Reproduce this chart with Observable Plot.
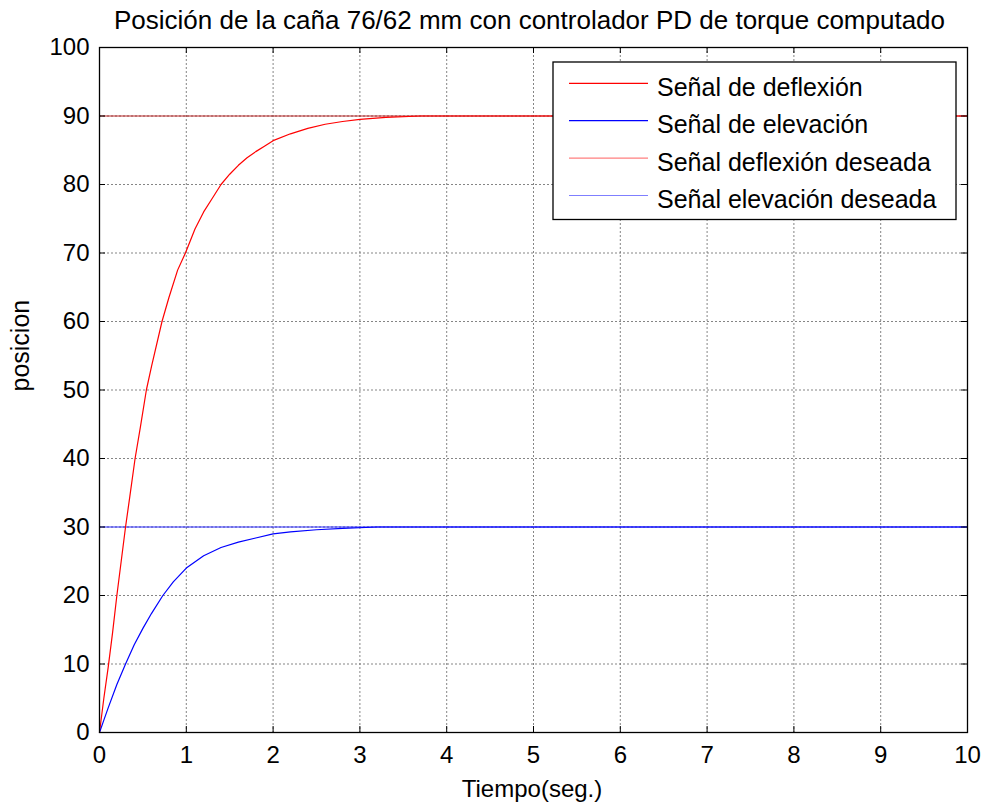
<!DOCTYPE html>
<html><head><meta charset="utf-8">
<script src="https://cdn.jsdelivr.net/npm/d3@7"></script>
<script src="https://cdn.jsdelivr.net/npm/@observablehq/plot@0.6"></script>
<style>body{margin:0;background:#fff}</style>
</head><body><div id="chart"></div>
<script>
const title = "Posición de la caña 76/62 mm con controlador PD de torque computado";
const xLabel = "Tiempo(seg.)";
const yLabel = "posicion";
const xTicks = [0,1,2,3,4,5,6,7,8,9,10];
const yTicks = [0,10,20,30,40,50,60,70,80,90,100];

// Señal de deflexión (rojo)
const tRed = [0,0.05,0.1,0.15,0.2,0.25,0.3,0.35,0.41,0.47,0.54,0.6,0.72,0.8,0.9,0.99,1.1,1.2,1.3,1.4,1.5,1.6,1.7,1.8,1.9,2.0,2.2,2.4,2.6,2.8,3.0,3.3,3.7,10];
const deflexion = [0,5,9.5,14.5,20,25,30,34.5,40,44.5,50,53.5,60,63.5,67.5,70,73.5,76,78,80,81.5,82.8,83.9,84.8,85.6,86.4,87.4,88.2,88.8,89.2,89.5,89.8,90,90];

// Señal de elevación (azul)
const tBlue = [0,0.05,0.1,0.2,0.3,0.4,0.5,0.6,0.73,0.85,1.0,1.2,1.4,1.6,1.8,2.0,2.2,2.5,2.8,3.2,10];
const elevacion = [0,1.8,3.6,7,10,12.8,15.2,17.4,20,22,24,25.8,27,27.8,28.4,29,29.3,29.6,29.8,30,30];

// Señales deseadas
const tRef = [0,10];
const deflexionDeseada = [90,90];
const elevacionDeseada = [30,30];

const legendLabels = ["Señal de deflexión","Señal de elevación","Señal deflexión deseada","Señal elevación deseada"];
const seriesColors = ["#ff0000","#0000ff","#ff0000","#0000ff"];
const seriesOpacity = [1,1,0.5,0.5];

const red = tRed.map((t,i)=>({t, v: deflexion[i]}));
const blue = tBlue.map((t,i)=>({t, v: elevacion[i]}));
const redRef = tRef.map((t,i)=>({t, v: deflexionDeseada[i]}));
const blueRef = tRef.map((t,i)=>({t, v: elevacionDeseada[i]}));

const W = 985, H = 805;
const mL = 99, mR = 18, mT = 47, mB = 73;
const fW = W - mL - mR, fH = H - mT - mB;
const tk = 6;
const font = "'Liberation Sans', Arial, sans-serif";

const svg = Plot.plot({
  width: W, height: H,
  marginLeft: mL, marginRight: mR, marginTop: mT, marginBottom: mB,
  style: {fontFamily: font, fontSize: "24px", background: "white", color: "black", overflow: "visible"},
  x: {domain: [0,10], ticks: xTicks, label: null},
  y: {domain: [0,100], ticks: yTicks, label: null},
  marks: [
    Plot.gridX(xTicks, {stroke: "#666", strokeOpacity: 0.8, strokeDasharray: "2,2"}),
    Plot.gridY(yTicks, {stroke: "#666", strokeOpacity: 0.8, strokeDasharray: "2,2"}),
    Plot.line(redRef, {x: "t", y: "v", stroke: "#b00000", strokeOpacity: 0.85, strokeWidth: 1}),
    Plot.line(blueRef, {x: "t", y: "v", stroke: seriesColors[3], strokeOpacity: 0.85, strokeWidth: 1}),
    Plot.line(red, {x: "t", y: "v", stroke: seriesColors[0], strokeWidth: 1.2}),
    Plot.line(blue, {x: "t", y: "v", stroke: seriesColors[1], strokeWidth: 1.2}),
    Plot.frame({stroke: "black", strokeWidth: 1.3}),
    Plot.tickX(xTicks, {x: d => d, insetTop: fH - tk, stroke: "black"}),
    Plot.tickX(xTicks, {x: d => d, insetBottom: fH - tk, stroke: "black"}),
    Plot.tickY(yTicks, {y: d => d, insetRight: fW - tk, stroke: "black"}),
    Plot.tickY(yTicks, {y: d => d, insetLeft: fW - tk, stroke: "black"}),
    Plot.axisX(xTicks, {anchor: "bottom", tickSize: 0, tickPadding: 13, fontSize: 24}),
    Plot.axisY(yTicks, {anchor: "left", tickSize: 0, tickPadding: 10, fontSize: 24}),
    Plot.text([title], {frameAnchor: "top", dy: -19, dx: -4, lineAnchor: "bottom", fontSize: 26}),
    Plot.text([xLabel], {frameAnchor: "bottom", dy: 64, dx: -1.5, lineAnchor: "bottom", fontSize: 24}),
    Plot.text([yLabel], {frameAnchor: "left", dx: -71, dy: 1.5, rotate: -90, lineAnchor: "bottom", fontSize: 25})
  ]
});

// Legend
const lg = d3.select(svg).append("g").attr("font-family", font).attr("font-size", 25).attr("text-anchor", "start");
const bx = 553, by = 62, bw = 403, bh = 157.5;
lg.append("rect").attr("x", bx).attr("y", by).attr("width", bw).attr("height", bh)
  .attr("fill", "white").attr("stroke", "black").attr("stroke-width", 1.3);
legendLabels.forEach((lab, i) => {
  const yy = 83.3 + i * 37.4;
  lg.append("line").attr("x1", 569).attr("x2", 648).attr("y1", yy).attr("y2", yy)
    .attr("stroke", seriesColors[i]).attr("stroke-opacity", seriesOpacity[i]).attr("stroke-width", 1.2);
  lg.append("text").attr("x", 657).attr("y", yy + 12.7).attr("fill", "black").attr("text-anchor", "start").text(lab);
});

document.getElementById("chart").appendChild(svg);
</script>
</body></html>
